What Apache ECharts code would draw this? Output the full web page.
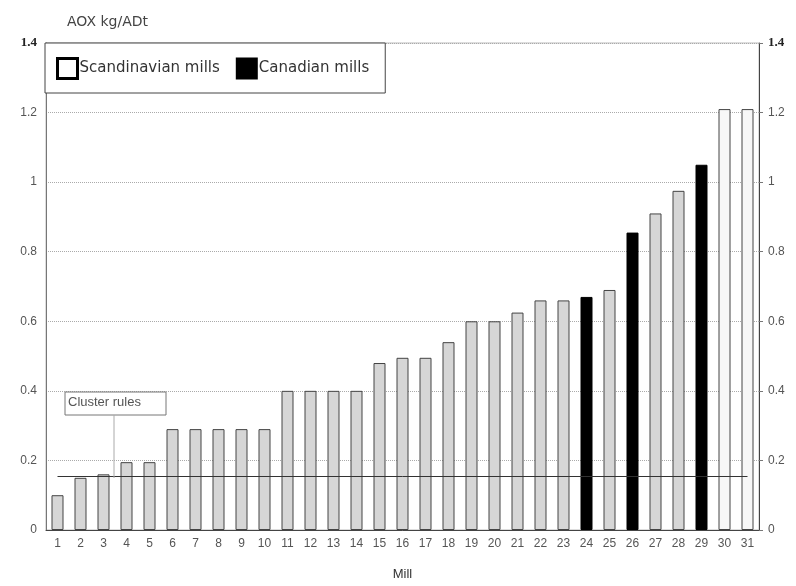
<!DOCTYPE html>
<html><head><meta charset="utf-8">
<script src="https://cdn.jsdelivr.net/npm/echarts@6/dist/echarts.min.js"></script>
<style>html,body{margin:0;padding:0;background:#fff}#c{width:796px;height:586px}</style>
</head><body><div id="c"></div>
<script>
const mills = ['1','2','3','4','5','6','7','8','9','10','11','12','13','14','15','16','17','18','19','20','21','22','23','24','25','26','27','28','29','30','31'];
const aox = [0.10,0.15,0.16,0.195,0.195,0.29,0.29,0.29,0.29,0.29,0.40,0.40,0.40,0.40,0.48,0.495,0.495,0.54,0.60,0.60,0.625,0.66,0.66,0.67,0.69,0.855,0.91,0.975,1.05,1.21,1.21];
const region = ['S','S','S','S','S','S','S','S','S','S','S','S','S','S','S','S','S','S','S','S','S','S','S','C','S','C','S','S','C','S','S'];
const whiteBars = ['30','31'];
const clusterRule = 0.155;
const yTicks = [0,0.2,0.4,0.6,0.8,1,1.2,1.4];

const font = 'Liberation Sans, Arial, sans-serif';
const wide = 'DejaVu Sans, sans-serif';
const scand = aox.map((v,i)=> region[i]==='S' ? {value:v, itemStyle:{color: whiteBars.includes(mills[i]) ? '#f7f7f7' : '#d6d6d6', borderColor:'#444', borderWidth:1}} : '-');
const canad = aox.map((v,i)=> region[i]==='C' ? v : '-');

function fmt(v){
  const s = (Math.round(v*10)/10).toString();
  return Math.abs(v-1.4)<1e-6 ? '{b|'+s+'}' : s;
}
const yBase = {
  type:'value', min:0, max:1.4, interval:0.2,
  axisLabel:{formatter:fmt, color:'#555', fontSize:12, fontFamily:font, margin:9,
    rich:{b:{fontWeight:'bold', color:'#222', fontSize:13, fontFamily:'Liberation Serif, serif'}}}
};
const chart = echarts.init(document.getElementById('c'));
chart.setOption({
  animation:false,
  title:{text:'AOX kg/ADt', left:62, top:10, textStyle:{fontSize:14, fontWeight:'normal', color:'#444', fontFamily:wide}},
  grid:{left:46, right:37, top:43, bottom:53, show:true, borderColor:'#bbb', borderWidth:1},
  legend:{left:45, top:43, orient:'horizontal', itemWidth:20, itemHeight:20, itemGap:16,
    padding:[14,16,13,11], backgroundColor:'#fff', borderColor:'#444', borderWidth:1,
    textStyle:{fontSize:15, color:'#333', fontFamily:wide, padding:[0,0,0,-3]},
    data:[{name:'Scandinavian mills', icon:'rect', itemStyle:{color:'#fff', borderColor:'#000', borderWidth:3}},
          {name:'Canadian mills', icon:'rect', itemStyle:{color:'#000'}}]},
  xAxis:{type:'category', data:mills, axisLine:{lineStyle:{color:'#444'}}, axisTick:{show:false},
    axisLabel:{color:'#555', fontSize:12, fontFamily:font, margin:8, interval:0},
    name:'Mill', nameLocation:'middle', nameGap:38, nameTextStyle:{color:'#333', fontSize:13, fontFamily:font}},
  yAxis:[
    Object.assign({}, yBase, {position:'left', axisLine:{show:true, lineStyle:{color:'#777'}}, axisTick:{show:false},
      splitLine:{show:true, lineStyle:{type:'dotted', color:'#aaa', width:1}}}),
    Object.assign({}, yBase, {position:'right', axisLine:{show:true, lineStyle:{color:'#444'}}, axisTick:{show:true, length:4, lineStyle:{color:'#777'}},
      splitLine:{show:false}})
  ],
  series:[
    {name:'Scandinavian mills', type:'bar', stack:'s', barWidth:12, data:scand,
      itemStyle:{color:'#d6d6d6', borderColor:'#444', borderWidth:1},
      markLine:{silent:true, symbol:'none', label:{show:false}, lineStyle:{color:'#333', width:1, type:'solid'},
        data:[[{coord:[mills[0], clusterRule]},{coord:[mills[mills.length-1], clusterRule]}]]}},
    {name:'Canadian mills', type:'bar', stack:'s', barWidth:12, data:canad,
      itemStyle:{color:'#000', borderColor:'#000', borderWidth:1}}
  ],
  graphic:[
    {type:'rect', shape:{x:65, y:392, width:101, height:23}, style:{fill:'#fff', stroke:'#777', lineWidth:1}, z:10},
    {type:'text', x:68, y:396, style:{text:'Cluster rules', fontSize:13, fill:'#555', fontFamily:font}, z:11},
    {type:'line', shape:{x1:114, y1:415, x2:114, y2:478}, style:{stroke:'#aaa', lineWidth:1}, z:10}
  ]
});
</script></body></html>
